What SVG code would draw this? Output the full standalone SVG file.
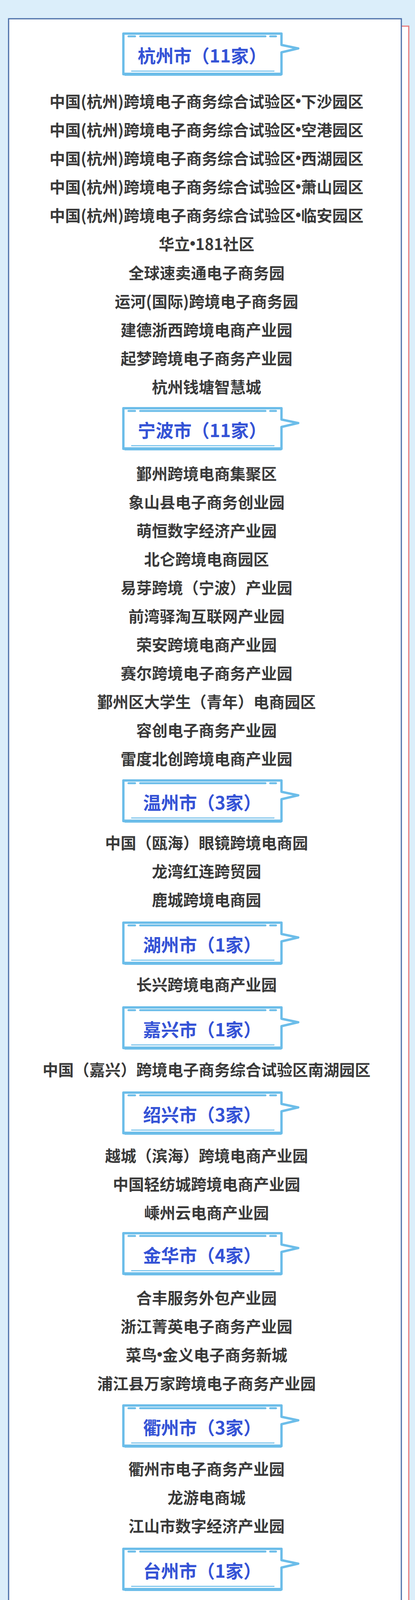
<svg xmlns="http://www.w3.org/2000/svg" xmlns:xlink="http://www.w3.org/1999/xlink" width="1063" height="4487" viewBox="0 0 1063 4487">
<style>
.it{font-family:"Noto Sans CJK SC","Noto Sans",sans-serif;font-weight:bold;font-size:40px;fill:#3a3a3a;text-anchor:middle;dominant-baseline:central}
.ht{font-family:"Noto Sans CJK SC","Noto Sans",sans-serif;font-weight:bold;font-size:46px;fill:#3553d6;text-anchor:middle;dominant-baseline:central}
.d{font-family:"Liberation Sans",sans-serif}
</style>
<defs>
<g id="hdr">
<path d="M316,-52 H721 V-23 L764,-14 L721,-4 V52 H316 Z" fill="#fff" stroke="#6cbde9" stroke-width="6" stroke-linejoin="round"/>
<path d="M319,52 H721" stroke="#6cbde9" stroke-width="8"/>
<path d="M329,-45 H346 M359,-45 H680 M692,-45 H707" stroke="#6cbde9" stroke-width="5" stroke-linecap="round"/>
<path d="M336,44 H703" stroke="#6cbde9" stroke-width="2.5"/>
</g>
</defs>
<rect width="1063" height="4487" fill="#dbeefa"/>
<rect x="41" y="67" width="1006" height="4383" fill="#fff" stroke="#e87c7c" stroke-width="3"/>
<rect x="22" y="48" width="1006" height="4384" fill="#fff" stroke="#4a6ea8" stroke-width="3"/>
<g id="hangzhou"><use xlink:href="#hdr" y="138"/><text class="ht" x="518" y="140">杭州市（11家）</text>
<text class="it" x="529" y="258">中国(杭州)跨境电子商务综合试验区<tspan class="d">•</tspan>下沙园区</text>
<text class="it" x="529" y="331">中国(杭州)跨境电子商务综合试验区<tspan class="d">•</tspan>空港园区</text>
<text class="it" x="529" y="404">中国(杭州)跨境电子商务综合试验区<tspan class="d">•</tspan>西湖园区</text>
<text class="it" x="529" y="477">中国(杭州)跨境电子商务综合试验区<tspan class="d">•</tspan>萧山园区</text>
<text class="it" x="529" y="550">中国(杭州)跨境电子商务综合试验区<tspan class="d">•</tspan>临安园区</text>
<text class="it" x="529" y="623">华立<tspan class="d">•</tspan>181社区</text>
<text class="it" x="529" y="697">全球速卖通电子商务园</text>
<text class="it" x="529" y="770">运河(国际)跨境电子商务园</text>
<text class="it" x="529" y="843">建德浙西跨境电商产业园</text>
<text class="it" x="529" y="916">起梦跨境电子商务产业园</text>
<text class="it" x="529" y="989">杭州钱塘智慧城</text></g>
<g id="ningbo"><use xlink:href="#hdr" y="1097"/><text class="ht" x="518" y="1099">宁波市（11家）</text>
<text class="it" x="529" y="1211">鄞州跨境电商集聚区</text>
<text class="it" x="529" y="1284">象山县电子商务创业园</text>
<text class="it" x="529" y="1357">萌恒数字经济产业园</text>
<text class="it" x="529" y="1430">北仑跨境电商园区</text>
<text class="it" x="529" y="1503">易芽跨境（宁波）产业园</text>
<text class="it" x="529" y="1576">前湾驿淘互联网产业园</text>
<text class="it" x="529" y="1649">荣安跨境电商产业园</text>
<text class="it" x="529" y="1722">赛尔跨境电子商务产业园</text>
<text class="it" x="529" y="1795">鄞州区大学生（青年）电商园区</text>
<text class="it" x="529" y="1868">容创电子商务产业园</text>
<text class="it" x="529" y="1941">雷度北创跨境电商产业园</text></g>
<g id="wenzhou"><use xlink:href="#hdr" y="2050"/><text class="ht" x="518" y="2052">温州市（3家）</text>
<text class="it" x="529" y="2156">中国（瓯海）眼镜跨境电商园</text>
<text class="it" x="529" y="2229">龙湾红连跨贸园</text>
<text class="it" x="529" y="2302">鹿城跨境电商园</text></g>
<g id="huzhou"><use xlink:href="#hdr" y="2414"/><text class="ht" x="518" y="2416">湖州市（1家）</text>
<text class="it" x="529" y="2519">长兴跨境电商产业园</text></g>
<g id="jiaxing"><use xlink:href="#hdr" y="2631"/><text class="ht" x="518" y="2633">嘉兴市（1家）</text>
<text class="it" x="529" y="2737">中国（嘉兴）跨境电子商务综合试验区南湖园区</text></g>
<g id="shaoxing"><use xlink:href="#hdr" y="2849"/><text class="ht" x="518" y="2851">绍兴市（3家）</text>
<text class="it" x="529" y="2957">越城（滨海）跨境电商产业园</text>
<text class="it" x="529" y="3030">中国轻纺城跨境电商产业园</text>
<text class="it" x="529" y="3103">嵊州云电商产业园</text></g>
<g id="jinhua"><use xlink:href="#hdr" y="3209"/><text class="ht" x="518" y="3211">金华市（4家）</text>
<text class="it" x="529" y="3321">合丰服务外包产业园</text>
<text class="it" x="529" y="3394">浙江菁英电子商务产业园</text>
<text class="it" x="529" y="3467">菜鸟<tspan class="d">•</tspan>金义电子商务新城</text>
<text class="it" x="529" y="3540">浦江县万家跨境电子商务产业园</text></g>
<g id="quzhou"><use xlink:href="#hdr" y="3650"/><text class="ht" x="518" y="3652">衢州市（3家）</text>
<text class="it" x="529" y="3759">衢州市电子商务产业园</text>
<text class="it" x="529" y="3832">龙游电商城</text>
<text class="it" x="529" y="3905">江山市数字经济产业园</text></g>
<g id="taizhou"><use xlink:href="#hdr" y="4017"/><text class="ht" x="518" y="4019">台州市（1家）</text>
<text class="it" x="529" y="4126">椒江云谷跨境电商孵化园</text></g>
<g id="lishui"><use xlink:href="#hdr" y="4232"/><text class="ht" x="518" y="4234">丽水市（1家）</text>
<text class="it" x="529" y="4340">澜蓝汇<tspan class="d">•</tspan>缙云跨境电商园</text></g>
<g id="connectors"/>
</svg>
